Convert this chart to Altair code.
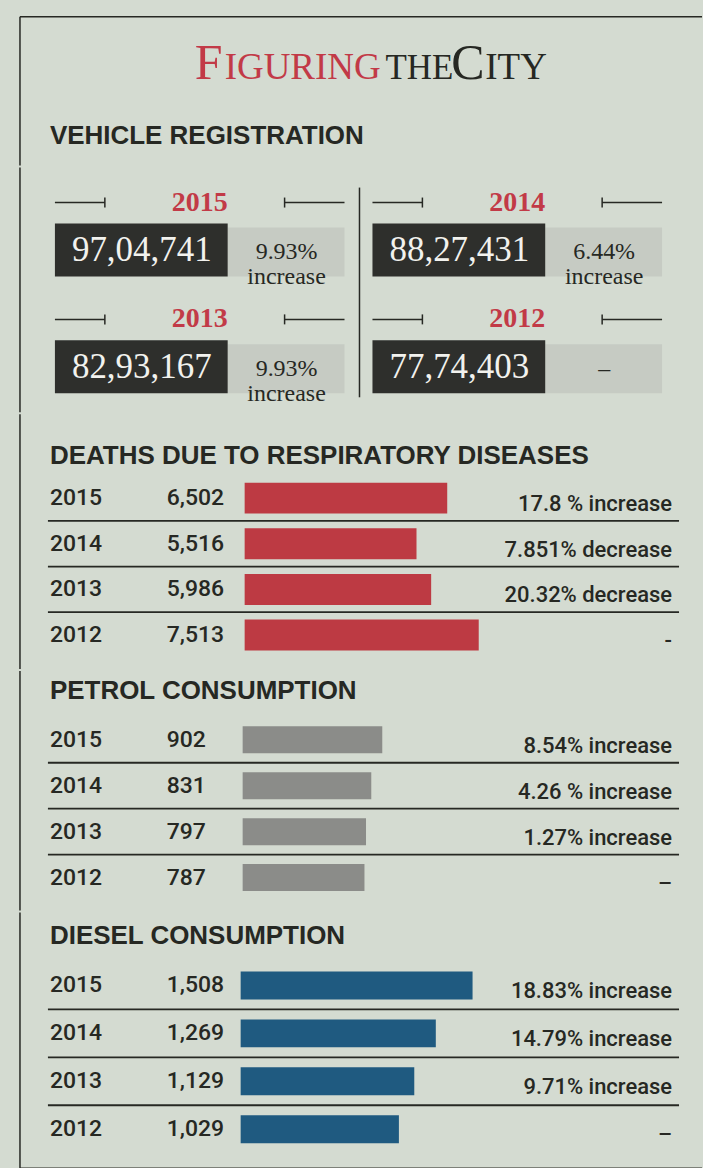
import altair as alt
import pandas as pd

# ---------------- data ----------------
years = ["2015", "2014", "2013", "2012"]

vehicle_counts = ["97,04,741", "88,27,431", "82,93,167", "77,74,403"]
vehicle_change = ["9.93%\nincrease", "6.44%\nincrease", "9.93%\nincrease", "–"]

death_values = [6502, 5516, 5986, 7513]
death_change = ["17.8 % increase", "7.851% decrease", "20.32% decrease", "-"]

petrol_values = [902, 831, 797, 787]
petrol_change = ["8.54% increase", "4.26 % increase", "1.27% increase", "–"]

diesel_values = [1508, 1269, 1129, 1029]
diesel_change = ["18.83% increase", "14.79% increase", "9.71% increase", "–"]

# ---------------- style ----------------
W = 703
PAPER = "#d4dbd1"
INK = "#262823"
RED = "#c23a47"
BOXDARK = "#2e2f2c"
BOXGRAY = "#c6cbc3"
SERIF = "Liberation Serif"
COND = "Liberation Sans"
SANS = "Roboto, Liberation Sans, sans-serif"
TITLE_SIZE = 26
FRAME_X = 20


def one():
    return alt.Chart(pd.DataFrame({"k": [0]}))


def frame_left(h, top=0):
    return one().mark_rule(color=INK, strokeWidth=1.5).encode(
        x=alt.value(FRAME_X), y=alt.value(top), y2=alt.value(h)
    )


# ---------------- header ----------------
H_HEAD = 165
title_base = 78
head_layers = [
    frame_left(H_HEAD, 16),
    one().mark_rule(color=INK, strokeWidth=1.5).encode(
        x=alt.value(FRAME_X), x2=alt.value(W), y=alt.value(16)
    ),
]
title_parts = [
    ("F", 50, RED, 195),
    ("IGURING", 37, RED, 225),
    ("THE", 35, INK, 386),
    ("C", 50, INK, 452),
    ("ITY", 37, INK, 486),
]
for txt, size, col, xpos in title_parts:
    head_layers.append(
        one().mark_text(
            text=txt, font=SERIF, fontSize=size, color=col,
            align="left", baseline="alphabetic"
        ).encode(x=alt.value(xpos), y=alt.value(title_base))
    )
head_layers.append(
    one().mark_text(
        text="VEHICLE REGISTRATION", font=COND, fontSize=TITLE_SIZE, fontWeight="bold",
        color=INK, align="left", baseline="middle"
    ).encode(x=alt.value(50), y=alt.value(135))
)
header = alt.layer(*head_layers).properties(width=W, height=H_HEAD)

# ---------------- vehicle grid ----------------
H_VEH = 245
df_v = pd.DataFrame({
    "year": years,
    "count": vehicle_counts,
    "change": vehicle_change,
    "col": [0, 1, 0, 1],
    "row": [0, 0, 1, 1],
})
vx = alt.X("col:Q", scale=alt.Scale(domain=[0, 1], range=[55, 373], nice=False, zero=False), axis=None)
vy = alt.Y("row:Q", scale=alt.Scale(domain=[0, 1], range=[56, 173], nice=False, zero=False), axis=None)
vb = alt.Chart(df_v).encode(x=vx, y=vy)

veh = alt.layer(
    frame_left(H_VEH),
    one().mark_rule(color=INK, strokeWidth=1.5).encode(
        x=alt.value(360), y=alt.value(20), y2=alt.value(230)
    ),
    vb.mark_rect(color=BOXGRAY, xOffset=173, x2Offset=290, yOffset=4, y2Offset=53).encode(x2="col:Q", y2="row:Q"),
    vb.mark_rect(color=BOXDARK, x2Offset=173, y2Offset=53).encode(x2="col:Q", y2="row:Q"),
    vb.mark_text(font=SERIF, fontSize=35, color="#f2f2ee", align="center", baseline="middle", dx=87, dy=27).encode(text="count:N"),
    vb.mark_text(font=SERIF, fontSize=24, color=INK, align="center", baseline="middle",
                 lineBreak="\n", lineHeight=25, dx=232, dy=29).encode(text="change:N"),
    vb.mark_text(font=SERIF, fontSize=28, fontWeight="bold", color=RED, align="center",
                 baseline="middle", dx=145, dy=-21).encode(text="year:N"),
    # bracket lines
    vb.mark_rule(color=INK, strokeWidth=1.5, x2Offset=50, yOffset=-21, y2Offset=-21).encode(x2="col:Q", y2="row:Q"),
    vb.mark_rule(color=INK, strokeWidth=1.5, xOffset=50, x2Offset=50, yOffset=-26, y2Offset=-16).encode(x2="col:Q", y2="row:Q"),
    vb.mark_rule(color=INK, strokeWidth=1.5, xOffset=230, x2Offset=290, yOffset=-21, y2Offset=-21).encode(x2="col:Q", y2="row:Q"),
    vb.mark_rule(color=INK, strokeWidth=1.5, xOffset=230, x2Offset=230, yOffset=-26, y2Offset=-16).encode(x2="col:Q", y2="row:Q"),
).properties(width=W, height=H_VEH)


# ---------------- bar sections ----------------
def bar_section(title, values, changes, color, H, title_y, first_center, step, bar_h,
                x0, ppu, dmax, bottom_line=None):
    df = pd.DataFrame({"year": years, "value": values, "change": changes})
    pi = 1 - bar_h / step
    r0 = first_center - bar_h / 2
    r1 = r0 + step * (4 - pi)
    ysc = alt.Scale(domain=years, range=[r0, r1], paddingInner=pi, paddingOuter=0)
    y_band = alt.Y("year:N", scale=ysc, axis=None)
    y_mid = alt.Y("year:N", scale=ysc, axis=None, bandPosition=0.5)
    y_end = alt.Y("year:N", scale=ysc, axis=None, bandPosition=1)
    base = alt.Chart(df)
    layers = [
        frame_left(H),
        one().mark_text(text=title, font=COND, fontSize=TITLE_SIZE, fontWeight="bold", color=INK,
                        align="left", baseline="middle").encode(x=alt.value(50), y=alt.value(title_y)),
        base.transform_filter(alt.datum.year != "2012").mark_rule(
            color=INK, strokeWidth=1.8, yOffset=(step - bar_h) / 2
        ).encode(y=y_end, x=alt.value(48), x2=alt.value(680)),
        base.mark_bar(color=color).encode(
            x=alt.X("value:Q", scale=alt.Scale(domain=[0, dmax], range=[x0, x0 + dmax * ppu],
                                               nice=False), axis=None),
            y=y_band,
        ),
        base.mark_text(font=SANS, fontSize=23, fontWeight=500, color=INK, align="left", baseline="middle").encode(
            x=alt.value(50), y=y_mid, text="year:N"),
        base.mark_text(font=SANS, fontSize=23, fontWeight=500, color=INK, align="left", baseline="middle").encode(
            x=alt.value(167), y=y_mid, text=alt.Text("value:Q", format=",")),
        base.mark_text(font=SANS, fontSize=22, fontWeight=500, color=INK, align="right", baseline="middle", dy=6).encode(
            x=alt.value(673), y=y_mid, text="change:N"),
    ]
    if bottom_line is not None:
        layers.append(one().mark_rule(color=INK, strokeWidth=1.5).encode(
            x=alt.value(FRAME_X), x2=alt.value(W), y=alt.value(bottom_line)))
    return alt.layer(*layers).properties(width=W, height=H)


deaths = bar_section("DEATHS DUE TO RESPIRATORY DISEASES", death_values, death_change, "#bd3a43",
                     255, 42, 84, 45.7, 31, 245, 0.0312, 10000)
petrol = bar_section("PETROL CONSUMPTION", petrol_values, petrol_change, "#8b8c89",
                     240, 20, 69, 46, 27, 243, 0.155, 1000)
diesel = bar_section("DIESEL CONSUMPTION", diesel_values, diesel_change, "#1f5a80",
                     263, 24, 73, 48, 28, 241, 0.154, 1000, bottom_line=256)

chart = alt.vconcat(header, veh, deaths, petrol, diesel, spacing=0).properties(
    padding=0, background=PAPER
).configure_view(stroke=None).configure_concat(spacing=0)

chart.save("out.html", embed_options={"renderer": "svg", "actions": False})
